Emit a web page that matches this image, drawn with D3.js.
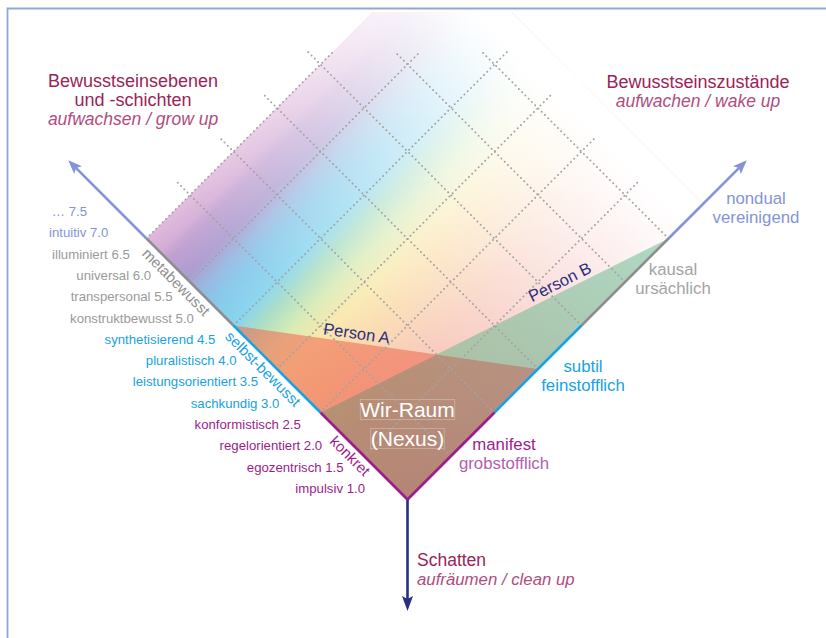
<!DOCTYPE html>
<html><head><meta charset="utf-8">
<script src="https://cdn.jsdelivr.net/npm/d3@7"></script>
<style>
body{margin:0;background:#fff}
svg{display:block}
text{font-family:"Liberation Sans",Arial,Helvetica,sans-serif}
</style>
</head><body>
<svg id="chart"></svg>
<script>
// ---------------- data ----------------
const levelValues = [1.0,1.5,2.0,2.5,3.0,3.5,4.0,4.5,5.0,5.5,6.0,6.5,7.0,7.5];
const levelNames  = ["impulsiv","egozentrisch","regelorientiert","konformistisch","sachkundig","leistungsorientiert","pluralistisch","synthetisierend","konstruktbewusst","transpersonal","universal","illuminiert","intuitiv","…"];
const levelTiers  = [0,0,0,0,1,1,1,1,2,2,2,2,3,3];
const leftSegments = ["konkret","selbst-bewusst","metabewusst"];
const stateNames    = ["manifest","subtil","kausal","nondual"];
const stateSubNames = ["grobstofflich","feinstofflich","ursächlich","vereinigend"];
const gridSteps = [0.5,1,1.5,2,2.5,3];
const personNames  = ["Person A","Person B"];
const personLevels = [5.0,3.0];   // left axis (level)
const personStates = [1.5,3.0];   // right axis (state segments)
const regionTitle  = ["Wir-Raum","(Nexus)"];
const titleLeft    = ["Bewusstseinsebenen","und -schichten","aufwachsen / grow up"];
const titleRight   = ["Bewusstseinszustände","aufwachen / wake up"];
const titleBottom  = ["Schatten","aufräumen / clean up"];

// ---------------- layout / style ----------------
const W = 826, H = 638;
const C = {purple:"#9b1d8c", blue:"#17a2e2", gray:"#9a9a9a", peri:"#8494d4", navy:"#26307f",
           title:"#9a2358", sub:"#b24c7e", person:"#2b2e7e"};
const tierColors = [C.purple, C.blue, C.gray, C.peri];
const segColors  = [C.purple, C.blue, "#8e8e8e"];
const stateColors = [[C.purple,"#b35db0"],[C.blue,C.blue],["#a4a4a4","#a4a4a4"],[C.peri,C.peri]];
const specOffsets = [0,0.25,0.40,0.48,0.55,0.62,0.67,0.75,0.80,0.85,0.92,0.95,1];
const specColors  = ["#f0a8b2","#f6bca8","#fad6a0","#f8e6a4","#d6eab0","#a6dcc4","#86d4ee","#86c8ea","#96b8e0","#ac9cd0","#c0a0d0","#d4acd6","#e0b8dc"];
const fadeOffsets = [0,0.156,0.47,0.75,0.94,1];
const fadeOpac    = [0,0.1,0.42,0.74,0.95,1];

const svg = d3.select("#chart").attr("width",W).attr("height",H);
const defs = svg.append("defs");

const unit = d3.scaleLinear().domain([0,1]).range([0,87]);
const levelToP = d3.scaleLinear().domain([1,3]).range([0,1]);
const apex = [407.5,499.5];
const pt = (p,q) => [apex[0]-unit(p)+unit(q), apex[1]-unit(p)-unit(q)];
const line = d3.line();
const fmt = d3.format(".1f");

// frame
svg.append("path").attr("d", line([[7.5,H],[7.5,8.5],[W,8.5]]))
  .attr("fill","none").attr("stroke","#93a6d9").attr("stroke-width",1.8);

defs.append("clipPath").attr("id","clipTop").append("rect")
  .attr("x",9).attr("y",12).attr("width",W).attr("height",H);

// spectrum gradient (along p)
const g0 = pt(0,0), g3 = pt(3,0);
const spec = defs.append("linearGradient").attr("id","spec").attr("gradientUnits","userSpaceOnUse")
  .attr("x1",g0[0]).attr("y1",g0[1]).attr("x2",g3[0]).attr("y2",g3[1]);
spec.selectAll("stop").data(specOffsets).join("stop")
  .attr("offset",d=>d).attr("stop-color",(d,i)=>specColors[i]);
// fade gradient (along q)
const f1 = pt(0,3.2);
const fade = defs.append("linearGradient").attr("id","fade").attr("gradientUnits","userSpaceOnUse")
  .attr("x1",g0[0]).attr("y1",g0[1]).attr("x2",f1[0]).attr("y2",f1[1]);
fade.selectAll("stop").data(fadeOffsets).join("stop")
  .attr("offset",d=>d).attr("stop-color","#fff").attr("stop-opacity",(d,i)=>fadeOpac[i]);

const field = [pt(0,0),pt(3,0),pt(3,3.4),pt(0,3.4)];
const fg = svg.append("g").attr("clip-path","url(#clipTop)");
fg.append("path").attr("d",line(field)+"Z").attr("fill","url(#spec)");
fg.append("path").attr("d",line(field)+"Z").attr("fill","url(#fade)");

// persons
function intersect(a1,a2,b1,b2){
  const d=(a2[0]-a1[0])*(b2[1]-b1[1])-(a2[1]-a1[1])*(b2[0]-b1[0]);
  const t=((b1[0]-a1[0])*(b2[1]-b1[1])-(b1[1]-a1[1])*(b2[0]-b1[0]))/d;
  return [a1[0]+t*(a2[0]-a1[0]), a1[1]+t*(a2[1]-a1[1])];
}
const AL = pt(levelToP(personLevels[0]),0), AR = pt(0,personStates[0]);
const BL = pt(levelToP(personLevels[1]),0), BR = pt(0,personStates[1]);
const X = intersect(AL,AR,BL,BR);
const regions = [
  {pts:[AL,X,BL], fill:"rgb(238,112,86)", op:0.6},
  {pts:[X,BR,AR], fill:"rgb(96,186,138)", op:0.5},
  {pts:[apex,BL,X,AR], fill:"rgb(150,115,88)", op:0.66}
];
svg.append("g").selectAll("path").data(regions).join("path")
  .attr("d",d=>line(d.pts)+"Z").attr("fill",d=>d.fill).attr("fill-opacity",d=>d.op);

// grid
const ext = 0.15, lim = 5, maxStep = d3.max(gridSteps);
const gridLines = [];
gridSteps.forEach(s=>{
  gridLines.push([pt(s,0), pt(s, Math.min(maxStep, lim-s)+ext)]);
  gridLines.push([pt(0,s), pt(Math.min(maxStep, lim-s)+ext, s)]);
});
svg.append("g").selectAll("path").data(gridLines).join("path")
  .attr("d",d=>line(d)).attr("fill","none").attr("stroke","#a2a2a2")
  .attr("stroke-width",2).attr("stroke-linecap","round").attr("stroke-dasharray","0 4.6");

// axes
const axG = svg.append("g");
function arrowHead(tip, ang, color, len, half, notch){
  axG.append("path")
    .attr("d",`M0,0 L${-len},${-half} L${-len+notch},0 L${-len},${half} Z`)
    .attr("fill",color).attr("transform",`translate(${tip[0]},${tip[1]}) rotate(${ang})`);
}
const tipU = 3.9;
leftSegments.forEach((s,i)=>{
  axG.append("path").attr("d",line([pt(i,0),pt(i+1,0)])).attr("stroke",segColors[i]).attr("stroke-width",2.6);
  axG.append("path").attr("d",line([pt(0,i),pt(0,i+1)])).attr("stroke",segColors[i]).attr("stroke-width",2.6);
});
axG.append("path").attr("d",line([pt(3,0),pt(tipU-0.08,0)])).attr("stroke",C.peri).attr("stroke-width",2.6);
axG.append("path").attr("d",line([pt(0,3),pt(0,tipU-0.08)])).attr("stroke",C.peri).attr("stroke-width",2.6);
arrowHead(pt(tipU,0), -135, C.peri, 14, 5.5, 3);
arrowHead(pt(0,tipU), -45, C.peri, 14, 5.5, 3);
const downTip = [apex[0], 611];
axG.append("path").attr("d",line([apex,[apex[0],downTip[1]-8]])).attr("stroke",C.navy).attr("stroke-width",2.6);
arrowHead(downTip, 90, C.navy, 15, 5.5, 3);

// segment labels along left axis
svg.append("g").selectAll("text").data(leftSegments).join("text")
  .attr("transform",(d,i)=>{const p=pt(i+0.58,0);return `translate(${p[0]},${p[1]}) rotate(45)`;})
  .attr("y",15).attr("text-anchor","middle").attr("font-size",15)
  .attr("fill",(d,i)=>segColors[i]).text(d=>d);

// level labels
const lx = d3.scaleLinear().domain([1,7.5]).range([365,87]);
const ly = d3.scaleLinear().domain([1,7.5]).range([493,216]);
svg.append("g").selectAll("text").data(levelValues).join("text")
  .attr("x",d=>lx(d)).attr("y",d=>ly(d)).attr("text-anchor","end").attr("font-size",13.2)
  .attr("fill",(d,i)=>tierColors[levelTiers[i]]).text((d,i)=>levelNames[i]+" "+fmt(d));

// state labels (right)
const stateOff = [[53,-6],[45,3],[48,-7],[44,9]];
stateNames.forEach((s,i)=>{
  const p = pt(0,i+0.5);
  const x = p[0]+stateOff[i][0], y = p[1]+stateOff[i][1];
  svg.append("text").attr("x",x).attr("y",y).attr("text-anchor","middle").attr("font-size",16.8)
    .attr("fill",stateColors[i][0]).text(s);
  svg.append("text").attr("x",x).attr("y",y+19).attr("text-anchor","middle").attr("font-size",16.8)
    .attr("fill",stateColors[i][1]).text(stateSubNames[i]);
});

// person labels
function lineLabel(a,b,t,txt,dy){
  const ang = Math.atan2(b[1]-a[1], b[0]-a[0])*180/Math.PI;
  const x = a[0]+t*(b[0]-a[0]), y = a[1]+t*(b[1]-a[1]);
  svg.append("text").attr("transform",`translate(${x},${y}) rotate(${ang})`)
    .attr("y",dy).attr("text-anchor","middle").attr("font-size",16.5).attr("fill",C.person).text(txt);
}
lineLabel(AL,AR,0.40,personNames[0],-4);
lineLabel(BL,BR,0.70,personNames[1],-4);

// Wir-Raum
regionTitle.forEach((t,i)=>{
  const tx = svg.append("text").attr("x",apex[0]).attr("y",apex[1]-82.5+i*29)
    .attr("text-anchor","middle").attr("font-size",21).attr("fill","#fff").text(t);
  const bb = tx.node().getBBox();
  svg.append("rect").attr("x",bb.x).attr("y",bb.y+1.5).attr("width",bb.width).attr("height",bb.height-3)
    .attr("fill","none").attr("stroke","rgba(255,255,255,0.32)").attr("stroke-width",0.8);
});

// titles
function title(lines, x, y0, anchor, italicFrom){
  lines.forEach((t,i)=>{
    const it = i>=italicFrom;
    svg.append("text").attr("x",x).attr("y",y0+i*19).attr("text-anchor",anchor)
      .attr("font-size",it?17.5:18).attr("font-style",it?"italic":"normal")
      .attr("fill",it?C.sub:C.title).text(t);
  });
}
title(titleLeft, 133, 87, "middle", 2);
title(titleRight, 698, 88, "middle", 1);
svg.append("text").attr("x",417).attr("y",566).attr("font-size",17.5).attr("fill",C.title).text(titleBottom[0]);
svg.append("text").attr("x",417).attr("y",585).attr("font-size",16.8).attr("font-style","italic").attr("fill",C.sub).text(titleBottom[1]);
</script>
</body></html>
